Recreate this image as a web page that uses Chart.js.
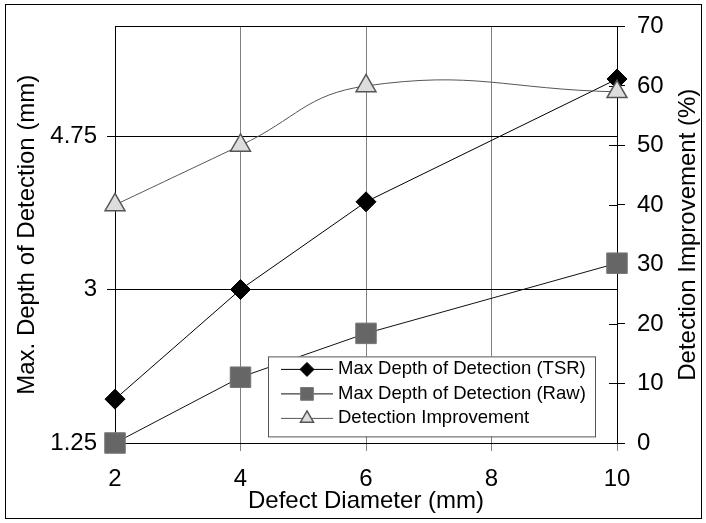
<!DOCTYPE html>
<html>
<head>
<meta charset="utf-8">
<title>Max Depth of Detection</title>
<script src="https://cdn.jsdelivr.net/npm/chart.js@4.4.0/dist/chart.umd.min.js"></script>
<style>
  html, body { margin: 0; padding: 0; background: #fff; }
  #wrap { position: relative; width: 706px; height: 523px; }
  #frame { position: absolute; left: 5px; top: 4px; width: 695px; height: 513px; border: 1px solid #000; pointer-events: none; }
</style>
</head>
<body>
<div id="wrap">
  <canvas id="depthChart" width="706" height="523"></canvas>
  <div id="frame"></div>
</div>
<script>
// Data
const diameters = [2, 4, 6, 10];
const depthTSR = [1.75, 3.0, 4.0, 5.4];
const depthRaw = [1.25, 2.0, 2.5, 3.3];
const improvement = [40, 50, 60, 59];

const seriesNames = [
  "Max Depth of Detection (TSR)",
  "Max Depth of Detection (Raw)",
  "Detection Improvement",
];

const diameterTicks = [2, 4, 6, 8, 10];
const depthTicks = [1.25, 3, 4.75];
const improvementTicks = [0, 10, 20, 30, 40, 50, 60, 70];

const rightTitle = "Detection Improvement (%)";

const FONT = "'Liberation Sans', Arial, sans-serif";

function toPoints(values) {
  return diameters.map((x, i) => ({ x: x, y: values[i] }));
}

function fixedTicks(list) {
  return (scale) => {
    scale.ticks = list.map((v) => ({ value: v }));
  };
}

// Boxed legend sitting inside the plot area
const boxLegend = {
  id: "boxLegend",
  afterDatasetsDraw(chart) {
    const { ctx, chartArea } = chart;
    const left = chartArea.left + 153;
    const top = chartArea.top + 330;
    const w = 327;
    const h = 80;

    ctx.save();
    ctx.fillStyle = "#fff";
    ctx.fillRect(left, top, w, h);
    ctx.strokeStyle = "#555";
    ctx.lineWidth = 1;
    ctx.strokeRect(left + 0.5, top + 0.5, w, h);

    chart.data.datasets.forEach((ds, i) => {
      const y = top + 13 + i * 24.5;
      ctx.strokeStyle = ds.borderColor;
      ctx.lineWidth = 1;
      ctx.beginPath();
      ctx.moveTo(left + 13, y);
      ctx.lineTo(left + 65, y);
      ctx.stroke();

      ctx.fillStyle = ds.pointBackgroundColor;
      ctx.strokeStyle = ds.pointBorderColor;
      ctx.lineWidth = ds.pointBorderWidth;
      Chart.helpers.drawPoint(ctx, {
        pointStyle: ds.pointStyle,
        radius: ds.legendRadius,
        borderWidth: ds.pointBorderWidth,
        rotation: 0,
      }, left + 39, y);

      ctx.fillStyle = "#000";
      ctx.font = "18.5px " + FONT;
      ctx.textBaseline = "middle";
      ctx.textAlign = "left";
      ctx.fillText(ds.label, left + 70, y);
    });
    ctx.restore();
  },
};

// Right axis ticks cross the axis line
const innerTicks = {
  id: "innerTicks",
  beforeDatasetsDraw(chart) {
    const scale = chart.scales.y2;
    const { ctx } = chart;
    ctx.save();
    ctx.strokeStyle = "#000";
    ctx.lineWidth = 1;
    scale.ticks.forEach((t) => {
      const y = Math.round(scale.getPixelForValue(t.value)) + 0.5;
      ctx.beginPath();
      ctx.moveTo(scale.left - 8, y);
      ctx.lineTo(scale.left, y);
      ctx.stroke();
    });
    ctx.restore();
  },
};

// Right axis title reads bottom-to-top, like the left one
const upwardTitle = {
  id: "upwardTitle",
  afterDraw(chart) {
    const { ctx, chartArea } = chart;
    ctx.save();
    ctx.translate(chart.scales.y2.right - 18, (chartArea.top + chartArea.bottom) / 2);
    ctx.rotate(-Math.PI / 2);
    ctx.fillStyle = "#000";
    ctx.font = "24px " + FONT;
    ctx.textAlign = "center";
    ctx.textBaseline = "middle";
    ctx.fillText(rightTitle, 0, 0);
    ctx.restore();
  },
};

const ctx = document.getElementById("depthChart");

new Chart(ctx, {
  type: "line",
  data: {
    datasets: [
      {
        label: seriesNames[0],
        data: toPoints(depthTSR),
        yAxisID: "y",
        order: 1,
        borderColor: "#000",
        borderWidth: 1,
        pointStyle: "rectRot",
        pointRadius: 10,
        pointBackgroundColor: "#000",
        pointBorderColor: "#000",
        pointBorderWidth: 1,
        legendRadius: 7,
        tension: 0,
        clip: false,
      },
      {
        label: seriesNames[1],
        data: toPoints(depthRaw),
        yAxisID: "y",
        order: 2,
        borderColor: "#111",
        borderWidth: 1,
        pointStyle: "rect",
        pointRadius: 14.5,
        pointBackgroundColor: "#666",
        pointBorderColor: "#777",
        pointBorderWidth: 1,
        legendRadius: 9,
        tension: 0,
        clip: false,
      },
      {
        label: seriesNames[2],
        data: toPoints(improvement),
        yAxisID: "y2",
        order: 0,
        borderColor: "#555",
        borderWidth: 1,
        pointStyle: "triangle",
        pointRadius: 11.5,
        pointBackgroundColor: "#ddd",
        pointBorderColor: "#555",
        pointBorderWidth: 1.5,
        legendRadius: 7.5,
        tension: 0.45,
        clip: false,
      },
    ],
  },
  options: {
    responsive: false,
    animation: false,
    layout: { padding: { top: 26, left: 0, right: 0, bottom: 0 } },
    plugins: {
      legend: { display: false },
      tooltip: { enabled: false },
    },
    scales: {
      x: {
        type: "linear",
        position: "bottom",
        min: 2,
        max: 10,
        afterBuildTicks: fixedTicks(diameterTicks),
        afterFit: (scale) => { scale.height = 80; },
        grid: {
          color: (c) => (c.tick && [4, 6, 8].includes(c.tick.value) ? "#808080" : "rgba(0,0,0,0)"),
          tickColor: "#808080",
          tickLength: 8,
        },
        border: { display: true, color: "#000", width: 1 },
        ticks: {
          color: "#000",
          font: { family: FONT, size: 24 },
          padding: 14,
          maxRotation: 0,
          callback: (v) => String(v),
        },
        title: {
          display: true,
          text: "Defect Diameter (mm)",
          color: "#000",
          font: { family: FONT, size: 24 },
          padding: { top: 0, bottom: 7 },
        },
      },
      y: {
        type: "linear",
        position: "left",
        min: 1.25,
        max: 6.0,
        afterBuildTicks: fixedTicks(depthTicks),
        afterFit: (scale) => { scale.width = 115; },
        grid: {
          color: "#000",
          tickColor: "#000",
          tickLength: 8,
        },
        border: { display: true, color: "#000", width: 1 },
        ticks: {
          color: "#000",
          font: { family: FONT, size: 24 },
          padding: 10,
          callback: (v) => String(v),
        },
        title: {
          display: true,
          text: "Max. Depth of Detection (mm)",
          color: "#000",
          font: { family: FONT, size: 24 },
          padding: { top: 13, bottom: 0 },
        },
      },
      y2: {
        type: "linear",
        position: "right",
        min: 0,
        max: 70,
        afterBuildTicks: fixedTicks(improvementTicks),
        afterFit: (scale) => { scale.width = 89; },
        grid: {
          color: (c) => (c.tick && c.tick.value === 70 ? "#000" : "rgba(0,0,0,0)"),
          tickColor: "#000",
          tickLength: 8,
        },
        border: { display: true, color: "#000", width: 1 },
        ticks: {
          color: "#000",
          font: { family: FONT, size: 24 },
          padding: 12,
          callback: (v) => String(v),
        },
        title: { display: false },
      },
    },
  },
  plugins: [innerTicks, boxLegend, upwardTitle],
});
</script>
</body>
</html>
